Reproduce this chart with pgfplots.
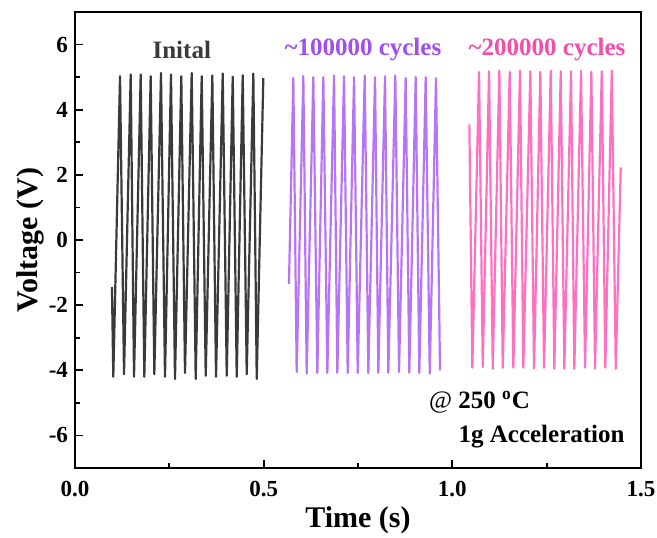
\documentclass[border=0pt]{standalone}
\usepackage{fontspec}
\setmainfont{Liberation Serif}
\usepackage{pgfplots}
\usepackage{pgfplotstable}
\pgfplotsset{compat=1.18}

\definecolor{initgray}{RGB}{58,58,58}
\definecolor{cyc1line}{RGB}{184,116,246}
\definecolor{cyc1text}{RGB}{160,78,238}
\definecolor{cyc2line}{RGB}{255,112,192}
\definecolor{cyc2text}{RGB}{242,78,170}

% time (s), voltage (V)
\pgfplotstableread{
t v
0.0979 -1.45
0.1015 -4.20
0.1193 5.03
0.1299 -4.12
0.1476 5.08
0.1564 -4.20
0.1741 5.08
0.1837 -4.20
0.2006 5.03
0.2102 -4.12
0.2279 5.13
0.2385 -4.20
0.2544 5.08
0.2650 -4.27
0.2817 5.03
0.2915 -4.08
0.3093 5.13
0.3199 -4.27
0.3358 5.03
0.3464 -4.17
0.3639 5.05
0.3737 -4.20
0.3915 5.11
0.4021 -4.17
0.4180 5.01
0.4286 -4.20
0.4445 5.06
0.4551 -4.12
0.4726 5.11
0.4816 -4.27
0.4991 4.97
}\initial

\pgfplotstableread{
t v
0.5670 -1.35
0.5786 4.97
0.5875 -4.05
0.6051 5.03
0.6140 -4.10
0.6316 5.00
0.6422 -4.08
0.6581 5.00
0.6687 -4.08
0.6865 5.05
0.6952 -4.08
0.7130 5.03
0.7227 -4.08
0.7395 5.00
0.7493 -4.08
0.7678 5.05
0.7774 -4.08
0.7951 5.00
0.8039 -4.08
0.8216 5.03
0.8304 -4.08
0.8489 5.05
0.8587 -4.05
0.8763 4.97
0.8860 -4.07
0.9029 5.00
0.9125 -4.08
0.9294 5.00
0.9401 -4.10
0.9567 4.97
0.9674 -4.00
}\cycA

\pgfplotstableread{
t v
1.0451 3.55
1.0530 -3.92
1.0708 5.16
1.0806 -3.90
1.0973 5.18
1.1071 -3.95
1.1246 5.20
1.1336 -3.92
1.1521 5.16
1.1617 -3.92
1.1794 5.20
1.1882 -3.92
1.2067 5.18
1.2165 -3.95
1.2332 5.16
1.2430 -3.92
1.2608 5.20
1.2703 -3.95
1.2873 5.18
1.2968 -3.95
1.3146 5.18
1.3233 -3.95
1.3411 5.20
1.3517 -3.92
1.3684 5.16
1.3782 -3.95
1.3960 5.18
1.4055 -3.92
1.4225 5.20
1.4331 -3.95
1.4463 2.23
}\cycB

\begin{document}
\begin{tikzpicture}
\begin{axis}[
    width=283pt, height=228pt, scale only axis,
    xmin=0, xmax=1.5, ymin=-7, ymax=7,
    xtick={0,0.5,1,1.5},
    ytick={-6,-4,...,6},
    minor xtick={0.25,0.75,1.25},
    minor ytick={-5,-3,...,5},
    tick pos=left, tick align=inside,
    major tick length=4pt, minor tick length=2.5pt,
    axis line style={line width=0.9pt},
    every tick/.style={line width=0.9pt, black},
    /pgf/number format/assume math mode=true,
    ticklabel style={font=\fontsize{11.5}{13}\selectfont\bfseries},
    x tick label style={yshift=-3pt, /pgf/number format/.cd, fixed, fixed zerofill, precision=1},
    label style={font=\fontsize{15}{17}\selectfont\bfseries},
    xlabel={Time (s)}, ylabel={Voltage (V)},
    xlabel style={at={(axis description cs:0.5,-0.114)}, anchor=center},
    ylabel style={at={(axis description cs:-0.0795,0.5)}, anchor=center},
    every axis plot/.append style={line width=1.1pt, line join=round, mark=none},
]
\addplot[initgray] table[x=t, y=v] {\initial};
\addplot[cyc1line] table[x=t, y=v] {\cycA};
\addplot[cyc2line] table[x=t, y=v] {\cycB};

\node[font=\fontsize{12.5}{14}\selectfont\bfseries, text=initgray] at (axis cs:0.283,5.82) {Inital};
\node[font=\fontsize{12.5}{14}\selectfont\bfseries, text=cyc1text] at (axis cs:0.763,5.85) {\textasciitilde100000 cycles};
\node[font=\fontsize{12.5}{14}\selectfont\bfseries, text=cyc2text] at (axis cs:1.251,5.85) {\textasciitilde200000 cycles};
\node[font=\fontsize{12.5}{14}\selectfont, anchor=west] at (axis cs:0.92,-4.98) {@ \textbf{250 \textsuperscript{o}C}};
\node[font=\fontsize{12.5}{14}\selectfont\bfseries, anchor=west] at (axis cs:0.998,-6.02) {1g Acceleration};
\end{axis}
\pgfresetboundingbox
\useasboundingbox ([shift={(-37.5pt,-34.5pt)}]current axis.south west) rectangle ([shift={(8pt,6pt)}]current axis.north east);
\end{tikzpicture}
\end{document}
